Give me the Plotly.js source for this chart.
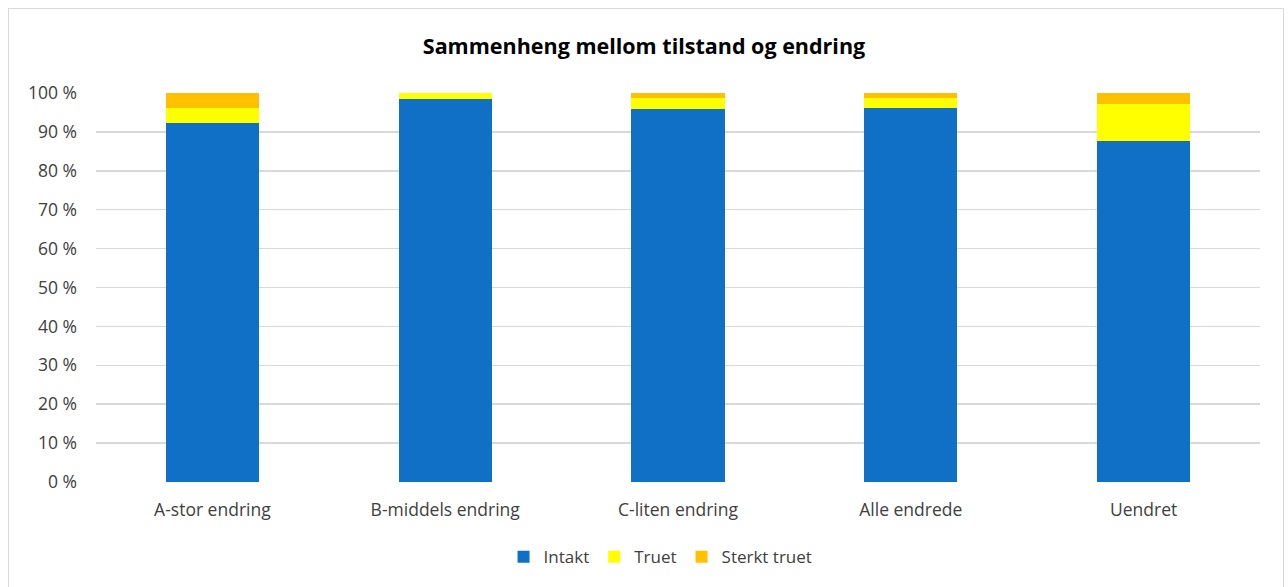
<!DOCTYPE html>
<html>
<head>
<meta charset="utf-8">
<script src="https://cdn.plot.ly/plotly-3.0.1.min.js"></script>
<style>
html,body{margin:0;padding:0;background:#fff;}
#frame{position:absolute;left:8px;top:8px;width:1276px;height:600px;border:1.5px solid #d9d9d9;box-sizing:border-box;}
#chart{position:absolute;left:0;top:0;width:1288px;height:587px;}
</style>
</head>
<body>
<div id="frame"></div>
<div id="chart"></div>
<script>
const categories = ["A-stor endring", "B-middels endring", "C-liten endring", "Alle endrede", "Uendret"];
const intakt = [92.2, 98.4, 95.8, 96.1, 87.7];
const truet = [3.9, 1.6, 3.0, 2.7, 9.4];
const sterktTruet = [3.9, 0.0, 1.2, 1.2, 2.9];
const yTicks = [0, 10, 20, 30, 40, 50, 60, 70, 80, 90, 100];

const font = "'Open Sans', 'Liberation Sans', sans-serif";
function tr(name, y, color) {
  return {type: "bar", name: name, x: categories, y: y, width: 0.4,
    marker: {color: color, line: {width: 0}}, hoverinfo: "skip"};
}
const data = [
  tr("Intakt", intakt, "#1070c6"),
  tr("Truet", truet, "#ffff00"),
  tr("Sterkt truet", sterktTruet, "#ffc000")
];
const layout = {
  width: 1288, height: 587,
  paper_bgcolor: "rgba(0,0,0,0)", plot_bgcolor: "rgba(0,0,0,0)",
  barmode: "stack",
  margin: {l: 96, r: 28, t: 93, b: 105},
  title: {text: "<b>Sammenheng mellom tilstand og endring</b>", x: 0.5, xanchor: "center", y: 0.921, yanchor: "middle",
    font: {family: font, size: 21.5, color: "#000"}},
  xaxis: {type: "category", tickfont: {family: font, size: 17.5, color: "#404040"},
    showgrid: false, zeroline: false, showline: false, ticks: "", ticklabelstandoff: 15},
  yaxis: {range: [0, 100], tickvals: yTicks, ticktext: yTicks.map(v => v + " %"),
    tickfont: {family: font, size: 17.5, color: "#404040"},
    showgrid: true, gridcolor: "#d9d9d9", gridwidth: 1.5, zeroline: false, showline: false,
    ticks: "", ticklabelstandoff: 18},
  showlegend: true,
  legend: {orientation: "h", x: 0.485, xanchor: "center", y: -0.193, yanchor: "middle",
    font: {family: font, size: 17, color: "#404040"}, traceorder: "normal",
    itemwidth: 30, itemclick: false},
  bargap: 0.6
};
Plotly.newPlot("chart", data, layout, {displayModeBar: false, staticPlot: true});
</script>
</body>
</html>
